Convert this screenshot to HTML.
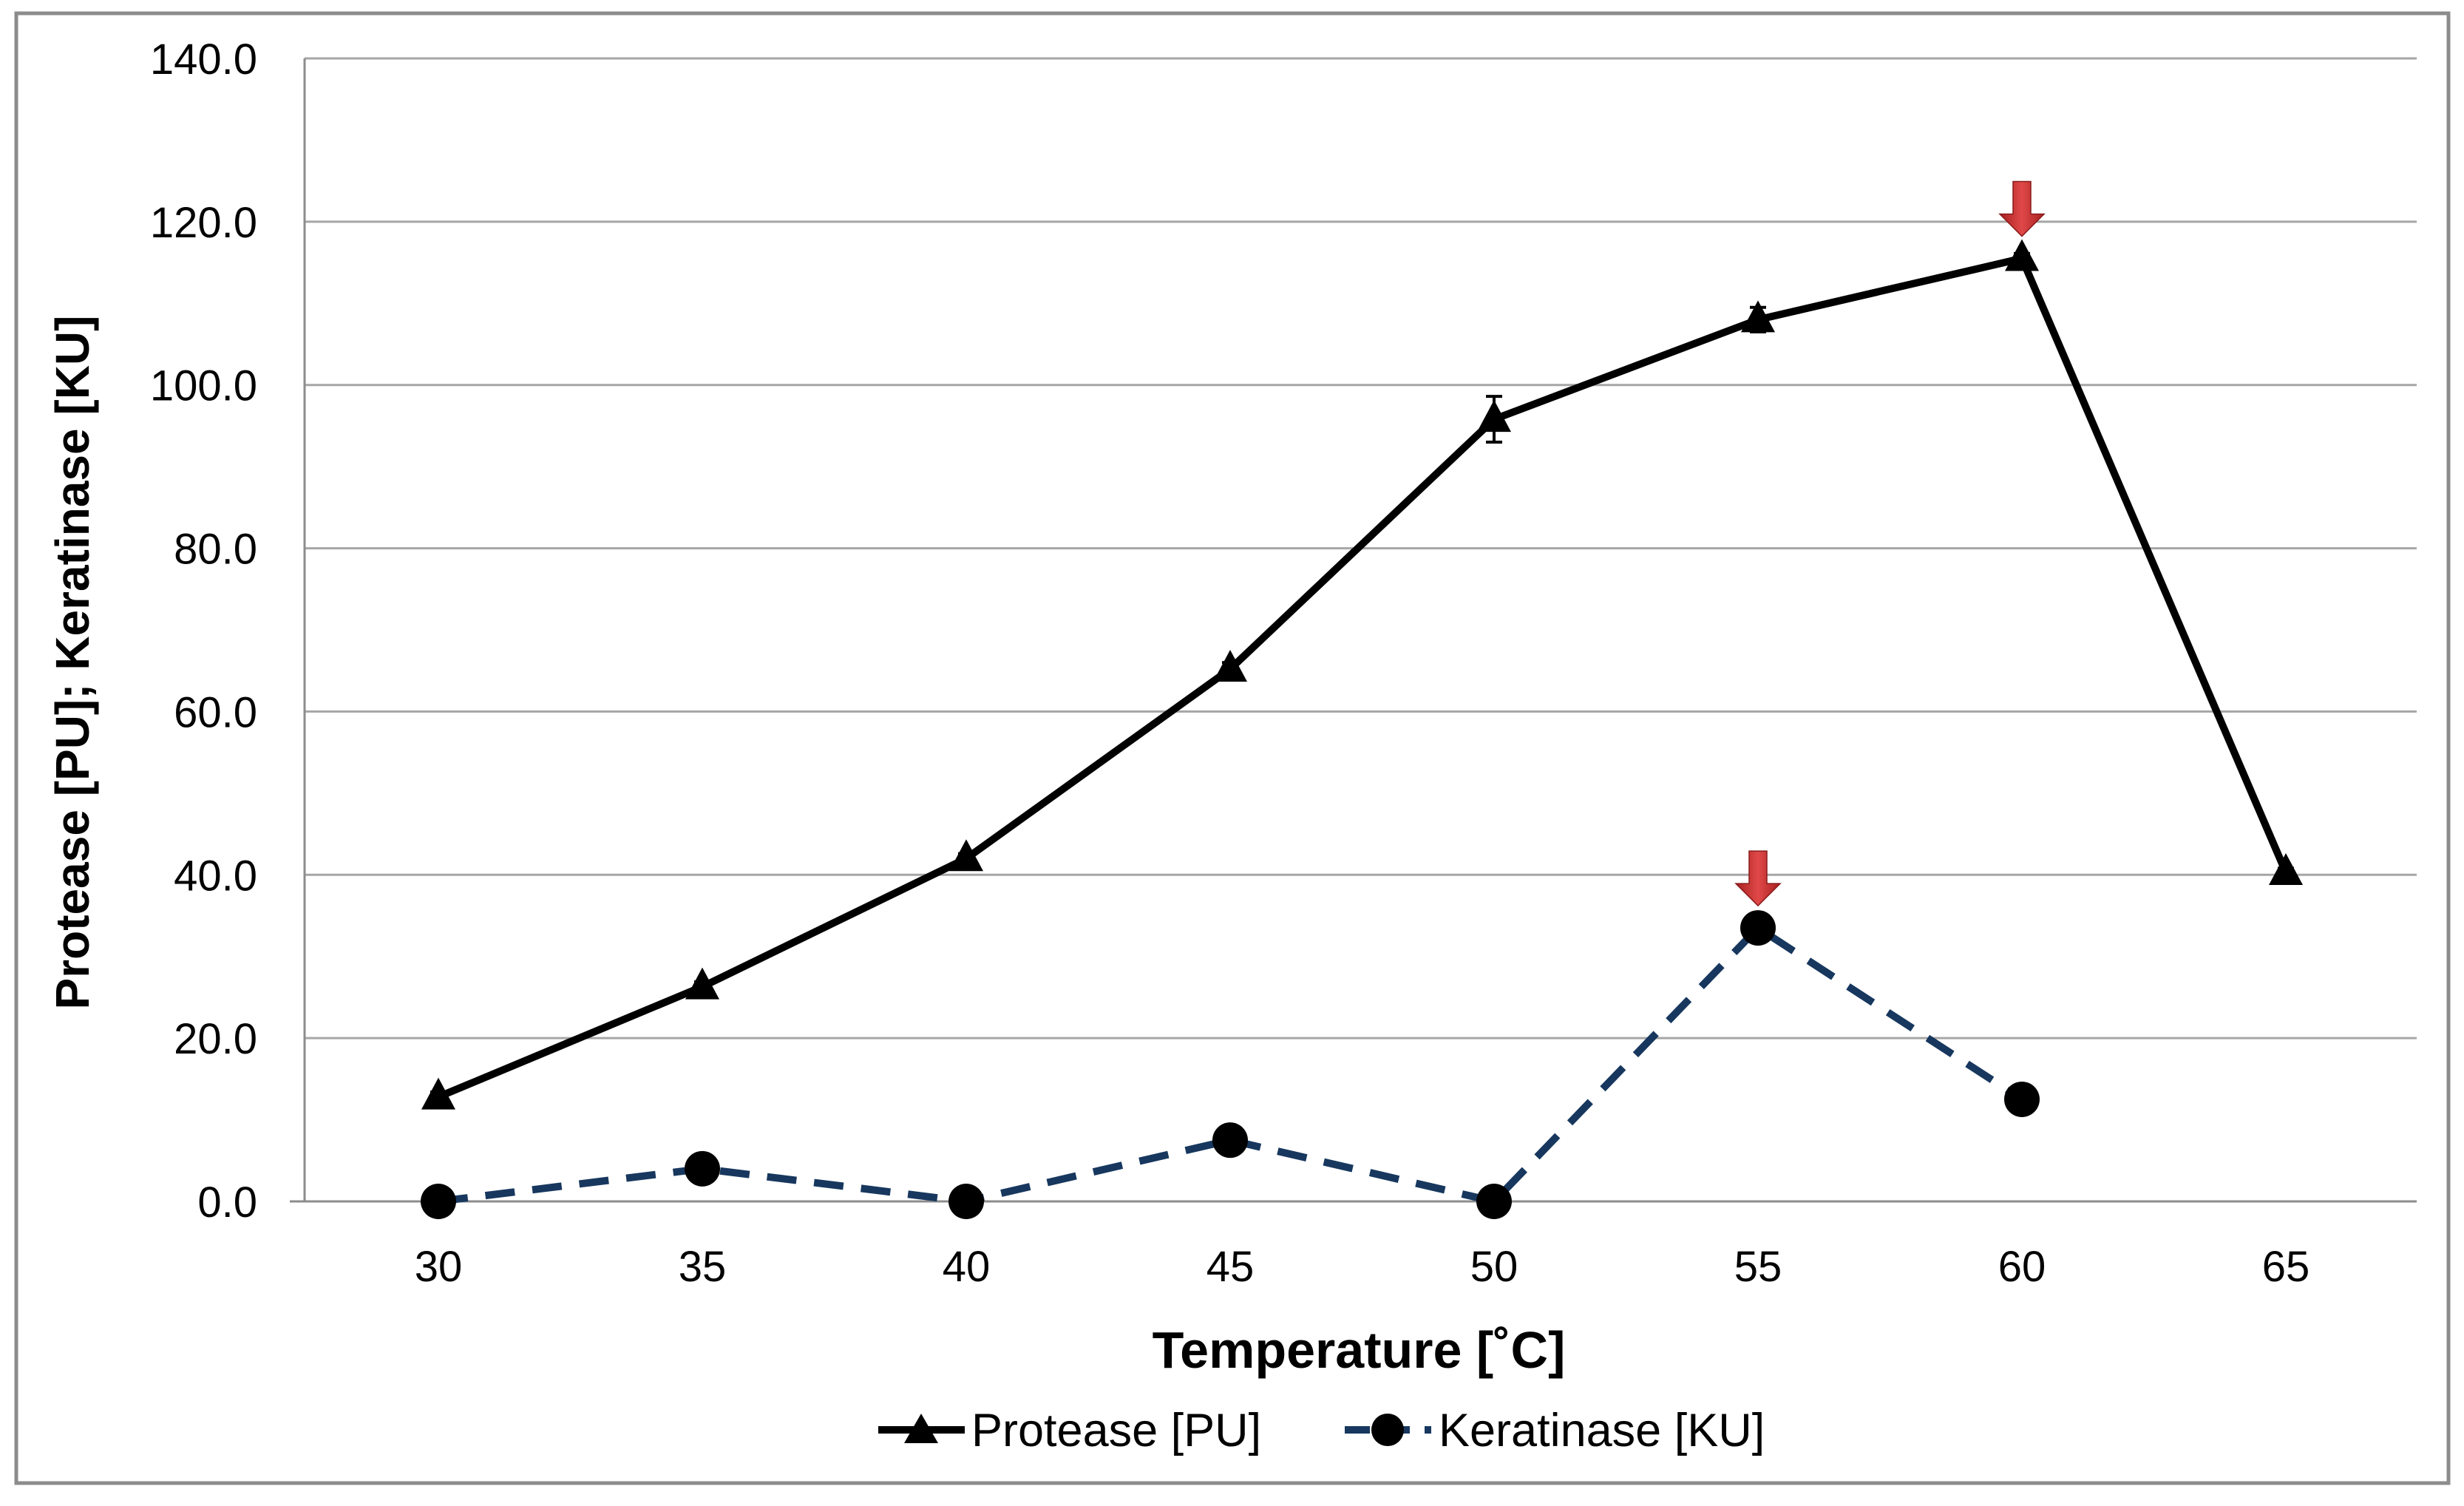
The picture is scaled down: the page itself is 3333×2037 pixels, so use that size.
<!DOCTYPE html>
<html><head><meta charset="utf-8">
<style>
html,body{margin:0;padding:0;background:#fff;}
svg{display:block;font-family:"Liberation Sans",sans-serif;}
</style></head>
<body>
<svg id="chart" width="3333" height="2037" viewBox="0 0 3333 2037" xmlns="http://www.w3.org/2000/svg">
<defs>
<linearGradient id="arrowGrad" x1="0" x2="1" y1="0" y2="0">
<stop offset="0" stop-color="#a82020"/><stop offset="0.5" stop-color="#e04848"/><stop offset="1" stop-color="#a82020"/>
</linearGradient>
</defs>
<rect x="22" y="18" width="3290" height="1988" fill="#fff" stroke="#8c8c8c" stroke-width="5"/>
<g id="grid"></g>
<g id="series"></g>
<g id="labels"></g>
<text x="1838" y="1850" text-anchor="middle" font-size="70" font-weight="bold">Temperature [˚C]</text>
<text transform="translate(120,896) rotate(-90)" text-anchor="middle" font-size="64" font-weight="bold">Protease [PU]; Keratinase [KU]</text>
<g>
 <g>
  <line x1="1188" y1="1934" x2="1305" y2="1934" stroke="#000" stroke-width="10"/>
  <polygon points="1246,1912 1269,1952 1223,1952" fill="#000"/>
  <text x="1314" y="1956" font-size="63">Protease [PU]</text>
 </g>
 <g>
  <line x1="1819" y1="1934" x2="1936" y2="1934" stroke="#17375e" stroke-width="10" stroke-dasharray="34,20"/>
  <circle cx="1877" cy="1934" r="22" fill="#000"/>
  <text x="1946" y="1956" font-size="63">Keratinase [KU]</text>
 </g>
</g>
</svg>
<script>
const categories = [30, 35, 40, 45, 50, 55, 60, 65];
const proteaseValues = [12.8, 26.3, 42.0, 65.2, 95.8, 108.0, 115.5, 40.3];
const proteaseErrors = [0.6, 0.6, 0.6, 0.8, 2.8, 1.5, 0.6, 0.5];
const keratinaseValues = [0, 4.0, 0, 7.5, 0, 33.5, 12.5];
const yTicks = [0, 20, 40, 60, 80, 100, 120, 140];
const yTickLabels = ["0.0", "20.0", "40.0", "60.0", "80.0", "100.0", "120.0", "140.0"];
const arrowIndicesProtease = [6];
const arrowIndicesKeratinase = [5];

const NS = "http://www.w3.org/2000/svg";
const L = 412, R = 3269, T = 79, B = 1625, YMAX = 140;
const x0 = 593, xStep = (3092 - 593) / 7;
function xPos(i){ return x0 + i * xStep; }
function yPos(v){ return B - (v / YMAX) * (B - T); }
function mk(tag, attrs, parent){ const e = document.createElementNS(NS, tag); for (const k in attrs) e.setAttribute(k, attrs[k]); parent.appendChild(e); return e; }

const grid = document.getElementById('grid');
const labels = document.getElementById('labels');
const series = document.getElementById('series');

yTicks.forEach((v, i) => {
  const ln = mk('line', {x1: (v === 0 ? 392 : L), x2: R, y1: yPos(v), y2: yPos(v), stroke: (v === 0 ? '#8c8c8c' : '#a6a6a6'), 'stroke-width': 3}, grid);
  
  
  const t = mk('text', {x: 348, y: yPos(v) + 21, 'text-anchor': 'end', 'font-size': 58}, labels);
  t.textContent = yTickLabels[i];
  
  
});
const yAxis = mk('line', {x1: L, x2: L, y1: T, y2: B, stroke: '#8c8c8c', 'stroke-width': 3}, grid);



categories.forEach((c, i) => {
  const t = mk('text', {x: xPos(i), y: 1733, 'text-anchor': 'middle', 'font-size': 58}, labels);
  t.textContent = c;
  
  
});

const kPts = keratinaseValues.map((v, i) => xPos(i) + ',' + yPos(v)).join(' ');
const kLine = mk('polyline', {points: kPts, fill: 'none', stroke: '#17375e', 'stroke-width': 10, 'stroke-dasharray': '40,24', 'stroke-linejoin': 'round'}, series);



const pPts = proteaseValues.map((v, i) => xPos(i) + ',' + yPos(v)).join(' ');
const pLine = mk('polyline', {points: pPts, fill: 'none', stroke: '#000', 'stroke-width': 10, 'stroke-linejoin': 'round'}, series);



proteaseValues.forEach((v, i) => {
  const e = proteaseErrors[i];
  const x = xPos(i), yt = yPos(v + e), yb = yPos(v - e);
  const g = mk('g', {stroke: '#000', 'stroke-width': 4}, series);
  
  
  mk('line', {x1: x, x2: x, y1: yt, y2: yb}, g);
  mk('line', {x1: x - 11, x2: x + 11, y1: yt, y2: yt}, g);
  mk('line', {x1: x - 11, x2: x + 11, y1: yb, y2: yb}, g);
});

proteaseValues.forEach((v, i) => {
  const x = xPos(i), y = yPos(v);
  const p = mk('polygon', {points: (x) + ',' + (y - 26) + ' ' + (x + 23) + ',' + (y + 17) + ' ' + (x - 23) + ',' + (y + 17), fill: '#000'}, series);
  
  
});

keratinaseValues.forEach((v, i) => {
  const c = mk('circle', {cx: xPos(i), cy: yPos(v), r: 24, fill: '#000'}, series);
  
  
});

function arrow(i, v, name){
  const x = xPos(i), tip = yPos(v) - 30;
  const p = mk('polygon', {points: [
    (x - 12) + ',' + (tip - 74), (x + 12) + ',' + (tip - 74), (x + 12) + ',' + (tip - 30),
    (x + 30) + ',' + (tip - 30), x + ',' + tip, (x - 30) + ',' + (tip - 30), (x - 12) + ',' + (tip - 30)
  ].join(' '), fill: 'url(#arrowGrad)', stroke: '#8a1a1a', 'stroke-width': 1.5}, series);
  
  
}
arrowIndicesProtease.forEach(i => arrow(i, proteaseValues[i], 'protease-peak-arrow'));
arrowIndicesKeratinase.forEach(i => arrow(i, keratinaseValues[i], 'keratinase-peak-arrow'));
</script>
</body></html>
